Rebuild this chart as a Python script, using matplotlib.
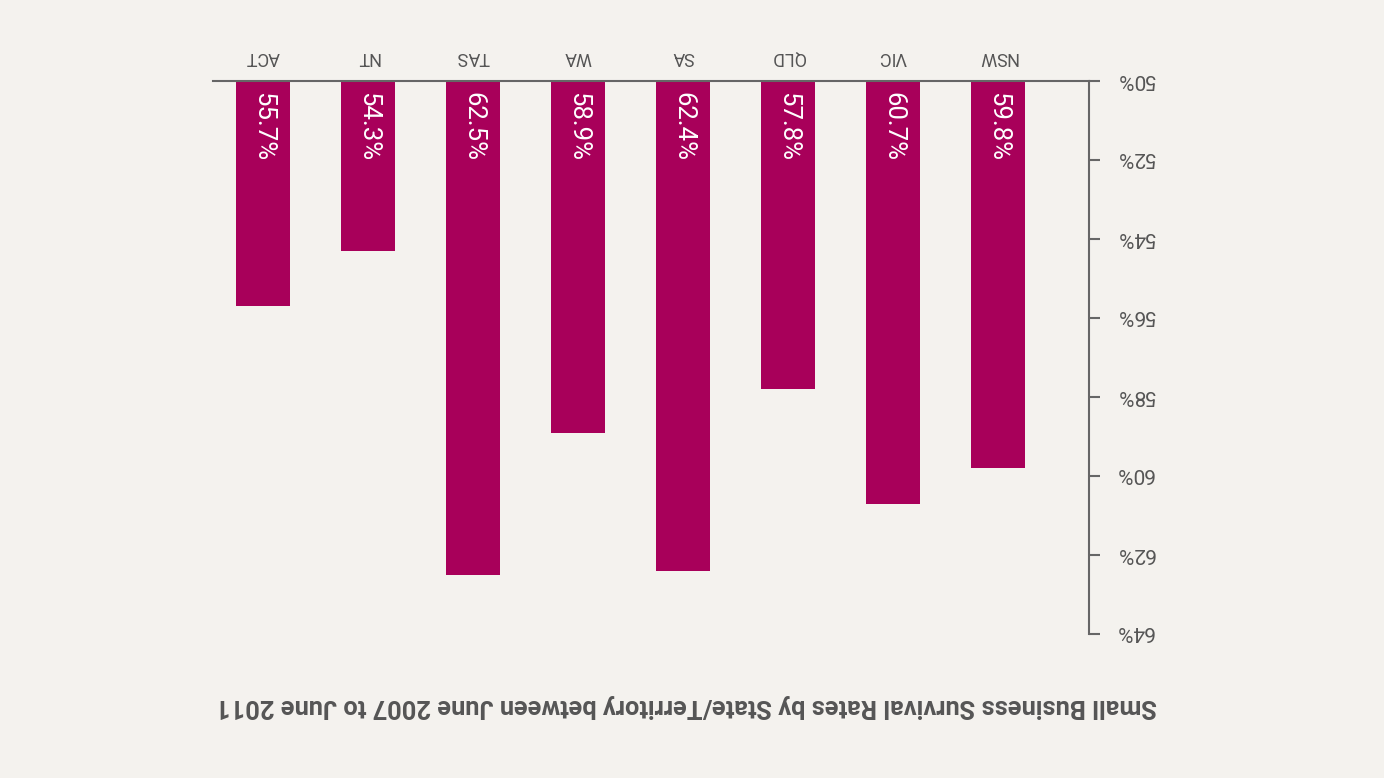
import matplotlib
matplotlib.use("Agg")
import matplotlib.pyplot as plt
from matplotlib.ticker import FuncFormatter

states = ["NSW", "VIC", "QLD", "SA", "WA", "TAS", "NT", "ACT"]
rates = [59.8, 60.7, 57.8, 62.4, 58.9, 62.5, 54.3, 55.7]
yticks = [50, 52, 54, 56, 58, 60, 62, 64]
title = "Small Business Survival Rates by State/Territory between June 2007 to June 2011"

bg = "#f4f2ee"
bar_color = "#a8005a"
gray = "#666666"
font = "Roboto"

fig = plt.figure(figsize=(13.84, 7.78), dpi=100, facecolor=bg)
ax = fig.add_axes([213/1384, 1-634/778, (1089-213)/1384, (634-81)/778], facecolor=bg)

xs = list(range(len(states)))
base = 50
ax.bar(xs, [r - base for r in rates], bottom=base, width=0.52, color=bar_color, zorder=2)

for x, r in zip(xs, rates):
    ax.annotate(f"{r:.1f}%", xy=(x, base), xytext=(0, -8), textcoords="offset points",
                rotation=270, ha="center", va="top", color="white",
                fontsize=18.5, family=font, zorder=3)

ax.set_xlim(7.476, -0.867)
ax.set_ylim(64, 50)

ax.xaxis.tick_top()
ax.set_xticks(xs)
ax.set_xticklabels(states, rotation=180, fontsize=13, family=font, color="#555555")
ax.tick_params(axis="x", length=0, pad=11)

ax.yaxis.tick_right()
ax.set_yticks(yticks)
ax.yaxis.set_major_formatter(FuncFormatter(lambda v, p: f"{v:.0f}%"))
ax.tick_params(axis="y", direction="out", length=8, width=1.5, color=gray, pad=11,
               labelsize=15, labelcolor="#555555")
for lab in ax.get_yticklabels():
    lab.set_rotation(180)
    lab.set_rotation_mode("anchor")
    lab.set_family(font)
    lab.set_horizontalalignment("right")
    lab.set_verticalalignment("center_baseline")

for s in ["left", "bottom"]:
    ax.spines[s].set_visible(False)
for s in ["top", "right"]:
    ax.spines[s].set_color(gray)
    ax.spines[s].set_linewidth(1.5)

fig.text(1157/1384, 1-706/778, title, rotation=180, ha="right", va="center",
         fontsize=18.3, fontweight="bold", family=font, color="#555555")

fig.savefig("out.png", dpi=100, facecolor=bg)
